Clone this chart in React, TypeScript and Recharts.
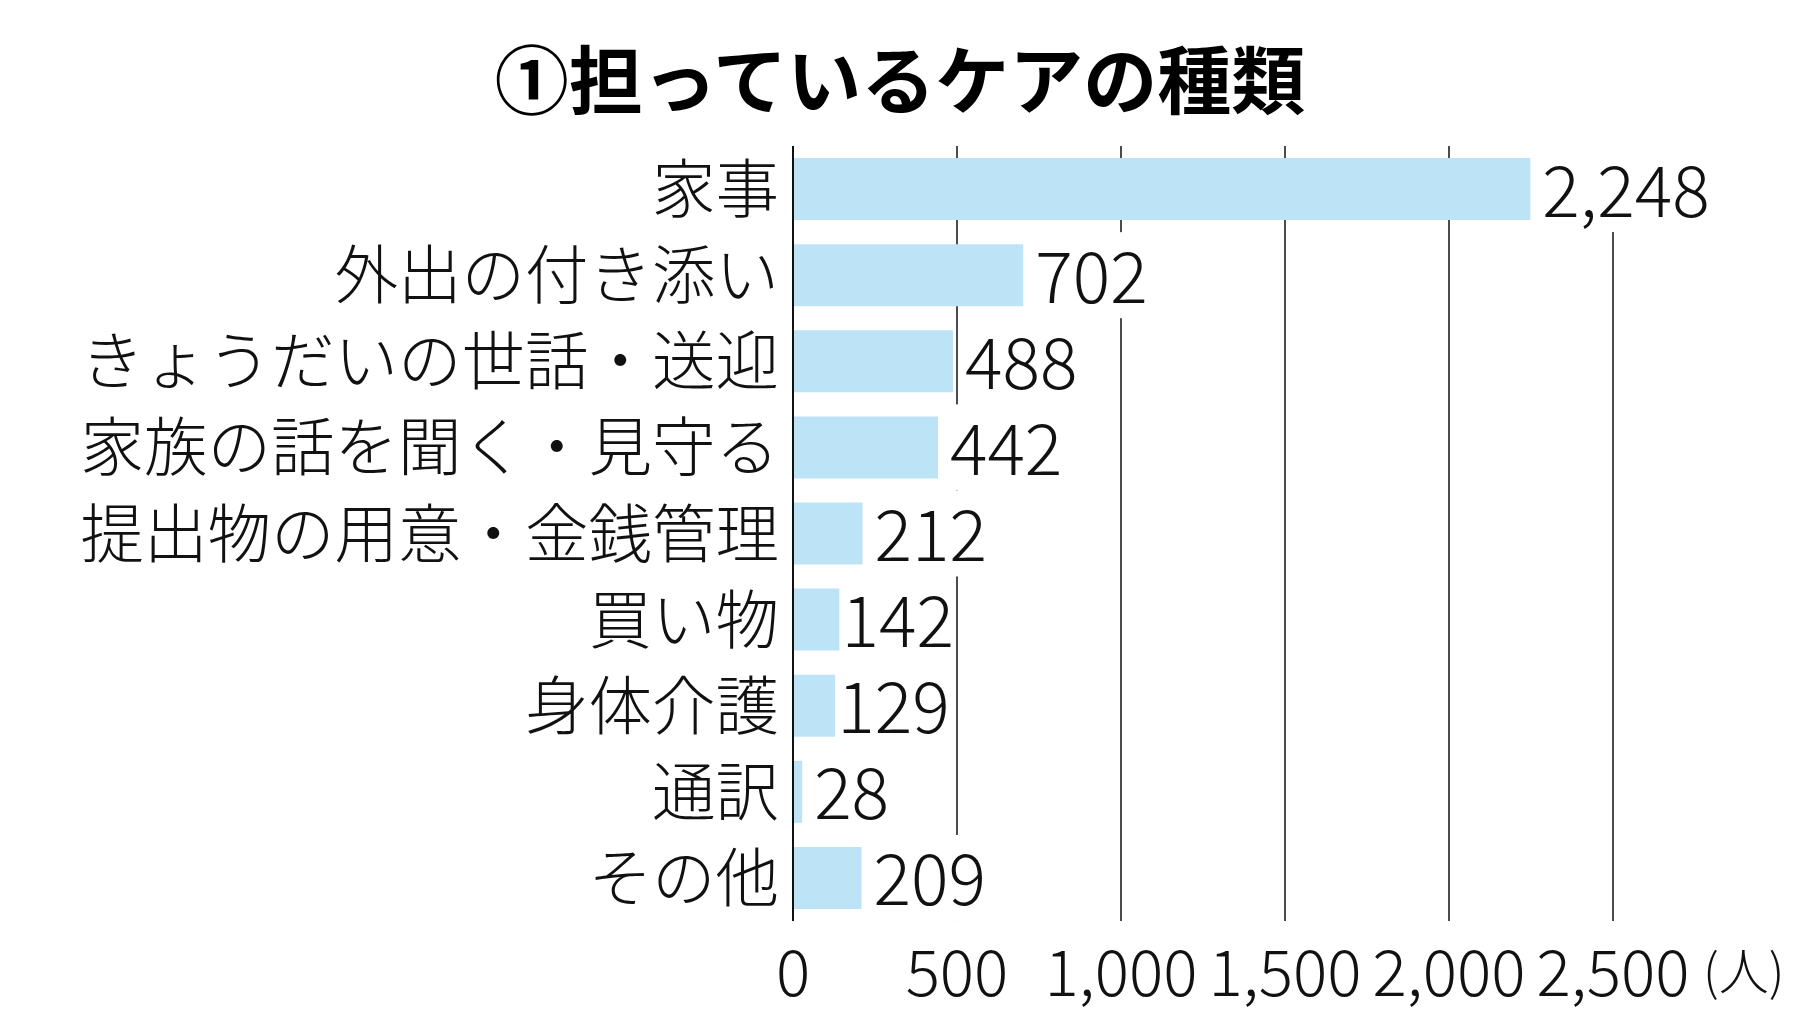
import { BarChart, Bar, XAxis, YAxis, CartesianGrid, LabelList } from "recharts";

const categories = [
  "家事",
  "外出の付き添い",
  "きょうだいの世話・送迎",
  "家族の話を聞く・見守る",
  "提出物の用意・金銭管理",
  "買い物",
  "身体介護",
  "通訳",
  "その他",
];
const counts = [2248, 702, 488, 442, 212, 142, 129, 28, 209];
const xTicks = [0, 500, 1000, 1500, 2000, 2500];
const unitLabel = "(人)";
const title = "①担っているケアの種類";

const data = categories.map((category, i) => ({ category, count: counts[i] }));

const FONT = "'Noto Sans CJK JP', 'Noto Sans', sans-serif";
const BAR_FILL = "#bde3f7";
const PLOT_BOTTOM = 921;

const fmt = (v: number) => v.toLocaleString("en-US");

// rough text width for the digit labels (proportional latin of the CJK font)
const textWidth = (s: string, size: number) =>
  s.split("").reduce((w, ch) => w + (ch === "," ? 0.23 : 0.5) * size, 0);

function CategoryTick({ x, y, payload }: any) {
  return (
    <text
      x={x - 6}
      y={y - 5}
      textAnchor="end"
      dominantBaseline="central"
      fontFamily={FONT}
      fontWeight={300}
      fontSize={63.5}
      fill="#111"
    >
      {payload.value}
    </text>
  );
}

function ValueTick({ x, payload }: any) {
  const last = payload.value === xTicks[xTicks.length - 1];
  return (
    <g>
      <text
        x={x}
        y={PLOT_BOTTOM + 47}
        textAnchor="middle"
        dominantBaseline="central"
        fontFamily={FONT}
        fontWeight={300}
        fontSize={64}
        fill="#111"
      >
        {fmt(payload.value)}
      </text>
      {last && (
        <text
          x={x + 90}
          y={PLOT_BOTTOM + 47}
          textAnchor="start"
          dominantBaseline="central"
          fontFamily={FONT}
          fontWeight={300}
          fontSize={50}
          fill="#111"
        >
          {unitLabel}
        </text>
      )}
    </g>
  );
}

// value label with a white backing that blanks the grid lines behind it;
// pulled in tight to the bar when that keeps a grid line clear
function BarValue(props: any) {
  const { x, y, width, height, value } = props;
  const label = fmt(value);
  const size = 70;
  const bx = Number(x);
  const bw = Number(width);
  const w = textWidth(label, size);
  const perUnit = bw / Number(value);
  const tickXs = xTicks.filter((t) => t > 0).map((t) => bx + t * perUnit);
  const hits = (gap: number) => {
    const s = bx + bw + gap;
    return tickXs.some((tx) => tx > s - 2 && tx < s + w + 8);
  };
  let gap = 12;
  if (hits(12) && !hits(2)) gap = 2;
  const tx = bx + bw + gap;
  const pad = 12;
  return (
    <g>
      <rect
        x={tx - 2}
        y={Number(y) - pad}
        width={w + 4}
        height={Number(height) + pad * 2}
        fill="#fff"
      />
      <text
        x={tx}
        y={Number(y) + Number(height) / 2 - 3}
        dominantBaseline="central"
        fontFamily={FONT}
        fontWeight={300}
        fontSize={size}
        fill="#111"
      >
        {label}
      </text>
    </g>
  );
}

export default function App() {
  return (
    <div
      style={{
        position: "absolute",
        left: 0,
        top: 0,
        width: 1800,
        height: 1020,
        background: "#fff",
        fontFamily: FONT,
      }}
    >
      <div
        style={{
          position: "absolute",
          top: 0,
          left: 0,
          width: 1800,
          lineHeight: "152px",
          textAlign: "center",
          fontSize: 74,
          fontWeight: 700,
          color: "#000",
        }}
      >
        {title}
      </div>
      <BarChart
        width={1800}
        height={1020}
        data={data}
        layout="vertical"
        margin={{ top: 146, right: 187, bottom: 0, left: 0 }}
        barCategoryGap="14%"
      >
        <CartesianGrid horizontal={false} stroke="#111" strokeWidth={1.5} />
        <XAxis
          type="number"
          domain={[0, 2500]}
          ticks={xTicks}
          height={1020 - PLOT_BOTTOM}
          axisLine={false}
          tickLine={false}
          tickSize={0}
          tickMargin={0}
          tick={<ValueTick />}
          interval={0}
        />
        <YAxis
          type="category"
          dataKey="category"
          width={793}
          axisLine={{ stroke: "#111", strokeWidth: 2 }}
          tickLine={false}
          tick={<CategoryTick />}
          interval={0}
        />
        <Bar dataKey="count" fill={BAR_FILL} isAnimationActive={false}>
          <LabelList dataKey="count" content={<BarValue />} />
        </Bar>
      </BarChart>
    </div>
  );
}
